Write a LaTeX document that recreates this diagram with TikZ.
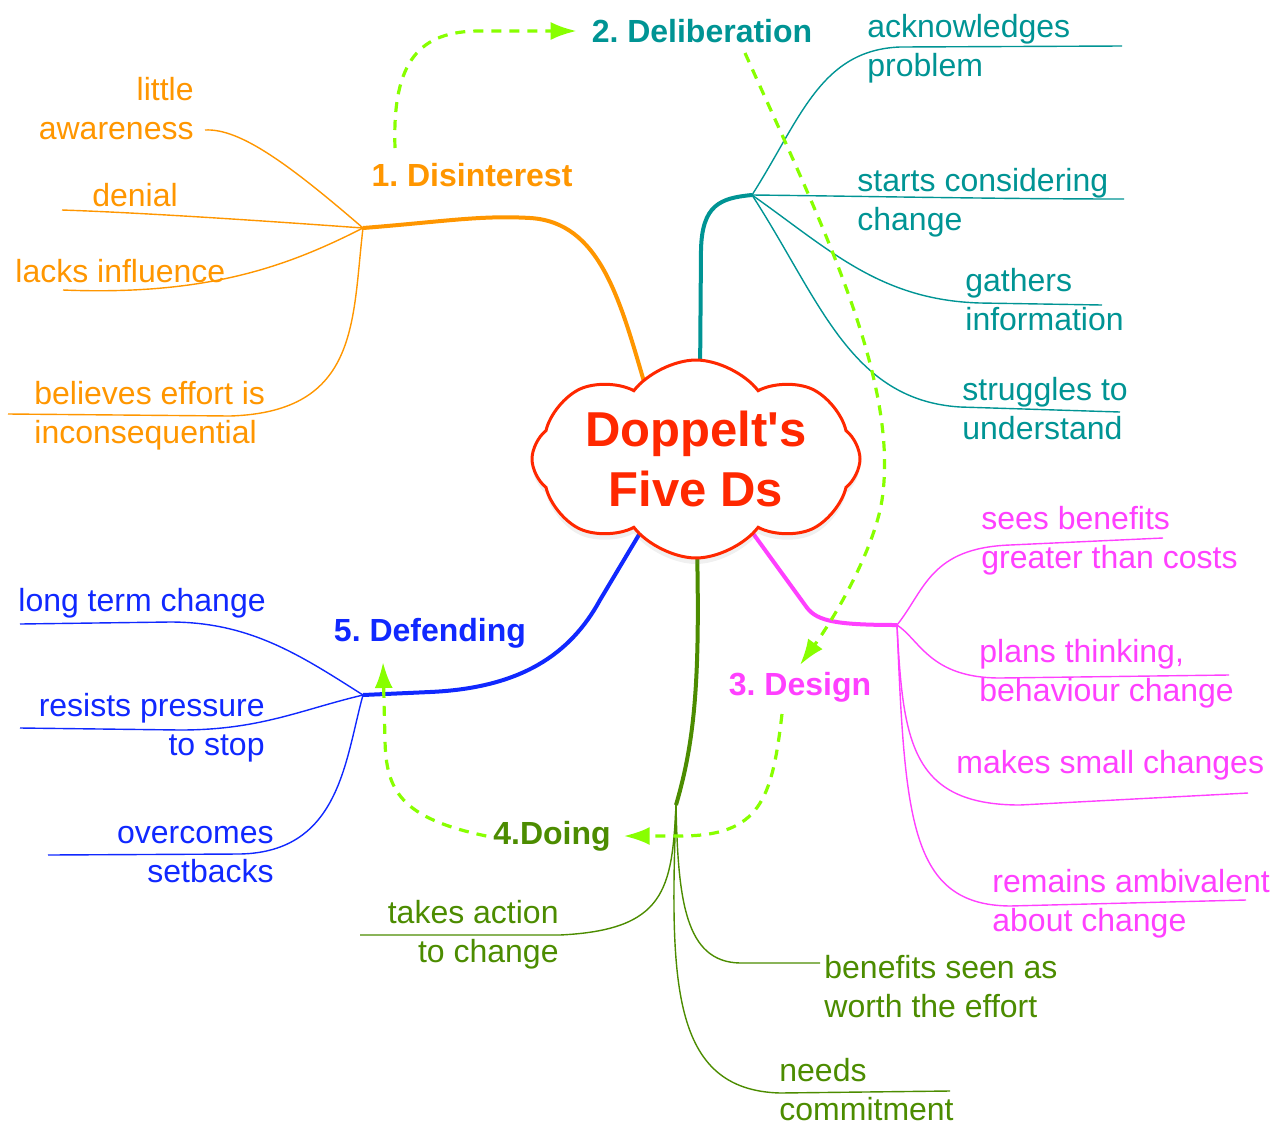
\documentclass[tikz,border=0pt]{standalone}
\usepackage{fontspec}
\setmainfont{Liberation Sans}
\usetikzlibrary{shapes,arrows.meta,positioning,shadows,backgrounds}

\definecolor{disorange}{RGB}{255,150,0}
\definecolor{delteal}{RGB}{0,148,148}
\definecolor{desmagenta}{RGB}{255,64,255}
\definecolor{doigreen}{RGB}{76,140,0}
\definecolor{defblue}{RGB}{16,40,255}
\definecolor{cloudred}{RGB}{255,40,0}
\definecolor{flowlime}{RGB}{136,255,0}

\begin{document}
\begin{tikzpicture}[
        x=0.5pt, y=-0.5pt,
        font=\fontsize{16}{19.5}\selectfont,
        % Block styles
        centre/.style={
            cloud,
            cloud puffs=8,
            cloud puff arc=105,
            cloud ignores aspect,
            draw=cloudred,
            line width=1.5pt,
            fill=white,
            minimum width=164pt,
            minimum height=99pt,
            inner sep=0pt,
            align=center,
            text=cloudred,
            font=\fontsize{24.5}{30}\selectfont\bfseries,
            drop shadow={shadow xshift=0pt, shadow yshift=-3pt, opacity=0.12}
        },
        stage/.style={font=\fontsize{16}{19.5}\selectfont\bfseries, text=#1},
        leafl/.style={text=#1, inner sep=0pt, anchor=west, align=left},
        leafr/.style={text=#1, inner sep=0pt, anchor=east, align=right},
        trunk/.style={draw=#1, line width=2pt},
        twig/.style={draw=#1, line width=0.7pt},
        flow/.style={-{Latex[length=13pt,width=9pt]}, draw=flowlime, line width=1.6pt, dash pattern=on 5pt off 4pt}
    ]
    \useasboundingbox (0,0) rectangle (1287,1126);

    % Centre
    \node[centre] (doppelt) at (696,459) {Doppelt\textquotesingle s\\Five Ds};

    % Stages
    \node[stage=disorange] (l1) at (472,175) {1.\ Disinterest};
    \node[stage=delteal] (l2) at (702,31) {2.\ Deliberation};
    \node[stage=desmagenta] (l3) at (800,687) {3.\ Design};
    \node[stage=doigreen] (l4) at (552,836) {4.Doing};
    \node[stage=defblue] (l5) at (430,633) {5.\ Defending};

    % Hubs and ends
    \coordinate (o1) at (645,385);
    \coordinate (o2) at (700,380);
    \coordinate (o3) at (752,532);
    \coordinate (o4) at (697,545);
    \coordinate (o5) at (640,533);
    \coordinate (h1) at (363,228);
    \coordinate (h2) at (752,195);
    \coordinate (h3) at (897,625);
    \coordinate (h4) at (676,805);
    \coordinate (h5) at (363,695);

    % Disinterest
    \node[leafr=disorange] (aware) at (194,109) {little\\awareness};
    \node[text=disorange, inner sep=0pt] (denial) at (135,195) {denial};
    \node[leafl=disorange] (lacks) at (15,271) {lacks influence};
    \node[leafl=disorange] (believes) at (34,416) {believes effort is\\inconsequential};
    \coordinate (aware-e) at (205,130);
    \coordinate (denial-e) at (62,210);
    \coordinate (lacks-e) at (63,290);
    \coordinate (believes-e) at (8,414);

    % Deliberation
    \node[leafl=delteal] (ack) at (867,49) {acknowledges\\problem};
    \node[leafl=delteal] (starts) at (857,203) {starts considering\\change};
    \node[leafl=delteal] (gathers) at (965,300) {gathers\\information};
    \node[leafl=delteal] (struggles) at (962,409) {struggles to\\understand};
    \coordinate (ack-e) at (1122,46);
    \coordinate (starts-e) at (1124,199);
    \coordinate (gathers-e) at (1102,305);
    \coordinate (struggles-e) at (1120,412);

    % Design
    \node[leafl=desmagenta] (sees) at (981,541) {sees benefits\\greater than costs};
    \node[leafl=desmagenta] (plans) at (979,674) {plans thinking,\\behaviour change};
    \node[leafl=desmagenta] (makes) at (956,765) {makes small changes};
    \node[leafl=desmagenta] (remains) at (992,904) {remains ambivalent\\about change};
    \coordinate (sees-e) at (1163,538);
    \coordinate (plans-e) at (1229,675);
    \coordinate (makes-e) at (1248,793);
    \coordinate (remains-e) at (1246,900);

    % Doing
    \node[leafr=doigreen] (takes) at (559,935) {takes action\\to change};
    \node[leafl=doigreen] (benefits) at (824,987) {benefits seen as\\worth the effort};
    \node[leafl=doigreen] (needs) at (779,1090) {needs\\commitment};
    \coordinate (takes-e) at (360,935);
    \coordinate (benefits-e) at (820,963);
    \coordinate (needs-e) at (950,1091);

    % Defending
    \node[leafl=defblue] (long) at (18,603) {long term change};
    \node[leafr=defblue] (resists) at (265,728) {resists pressure\\to stop};
    \node[leafr=defblue] (overcomes) at (274,855) {overcomes\\setbacks};
    \coordinate (long-e) at (20,624);
    \coordinate (resists-e) at (20,728);
    \coordinate (overcomes-e) at (48,855);

    % Branches
    \begin{scope}[on background layer]
    \draw[trunk=disorange] (h1) .. controls (440,222) and (480,215) .. (530,218) .. controls (600,222) and (620,300) .. (o1);
    \draw[twig=disorange] (h1) .. controls (290,165) and (240,128) .. (aware-e);
    \draw[twig=disorange] (h1) .. controls (280,222) and (150,213) .. (denial-e);
    \draw[twig=disorange] (h1) .. controls (290,265) and (210,296) .. (lacks-e);
    \draw[twig=disorange] (h1) .. controls (352,320) and (360,412) .. (230,416) -- (believes-e);

    \draw[trunk=delteal] (o2) -- (701,250) .. controls (702,205) and (720,198) .. (h2);
    \draw[twig=delteal] (h2) .. controls (800,120) and (820,50) .. (900,47) -- (ack-e);
    \draw[twig=delteal] (h2) .. controls (850,196) and (1000,199) .. (starts-e);
    \draw[twig=delteal] (h2) .. controls (830,250) and (880,300) .. (980,303) -- (gathers-e);
    \draw[twig=delteal] (h2) .. controls (820,300) and (850,400) .. (960,407) -- (struggles-e);

    \draw[trunk=desmagenta] (o3) -- (805,605) .. controls (815,620) and (830,625) .. (h3);
    \draw[twig=desmagenta] (h3) .. controls (925,590) and (930,548) .. (1010,545) -- (sees-e);
    \draw[twig=desmagenta] (h3) .. controls (920,640) and (930,678) .. (1000,678) -- (plans-e);
    \draw[twig=desmagenta] (h3) .. controls (903,740) and (910,805) .. (1020,805) -- (makes-e);
    \draw[twig=desmagenta] (h3) .. controls (905,820) and (910,905) .. (1010,906) -- (remains-e);

    \draw[trunk=doigreen] (o4) .. controls (700,680) and (695,740) .. (h4);
    \draw[twig=doigreen] (h4) .. controls (672,890) and (665,930) .. (560,935) -- (takes-e);
    \draw[twig=doigreen] (h4) .. controls (678,900) and (685,962) .. (740,963) -- (benefits-e);
    \draw[twig=doigreen] (h4) .. controls (670,980) and (670,1090) .. (780,1093) -- (needs-e);

    \draw[trunk=defblue] (o5) -- (600,600) .. controls (570,655) and (520,688) .. (430,692) -- (h5);
    \draw[twig=defblue] (h5) .. controls (300,655) and (250,622) .. (170,622) -- (long-e);
    \draw[twig=defblue] (h5) .. controls (300,710) and (260,730) .. (180,730) -- (resists-e);
    \draw[twig=defblue] (h5) .. controls (345,760) and (340,852) .. (240,854) -- (overcomes-e);
    \end{scope}

    % Stage flow
    \coordinate (f1) at (395,148);
    \coordinate (f2) at (745,53);
    \coordinate (f3) at (782,714);
    \coordinate (f5) at (383,662);
    \draw[flow, shorten >=4pt] (f1) .. controls (392,60) and (420,31) .. (480,31) -- (l2.west);
    \draw[flow] (f2) .. controls (820,220) and (900,380) .. (882,500) .. controls (875,545) and (840,610) .. (l3.north);
    \draw[flow, shorten >=3pt] (f3) .. controls (772,800) and (760,836) .. (680,836) -- (l4.east);
    \draw[flow] (l4.west) .. controls (400,818) and (386,790) .. (385,740) -- (f5);

\end{tikzpicture}
\end{document}
